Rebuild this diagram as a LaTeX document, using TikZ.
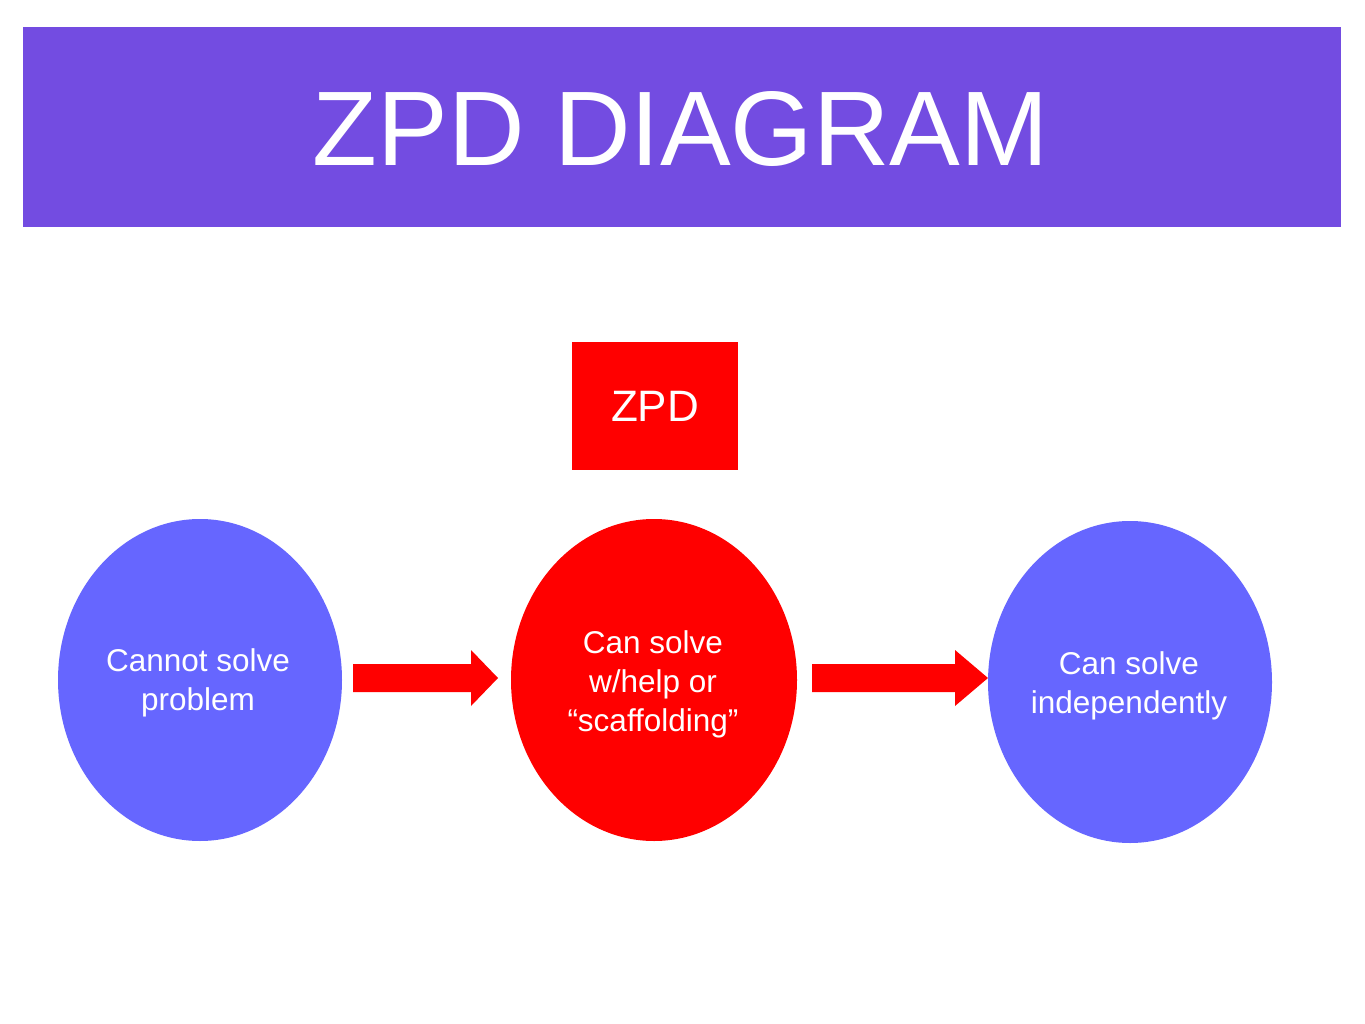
\documentclass[tikz,border=0pt]{standalone}
\usepackage{fontspec}
\setmainfont{Liberation Sans}
\usetikzlibrary{shapes.geometric,shapes.arrows}
\definecolor{banner}{RGB}{115,76,225}
\definecolor{stageblue}{RGB}{102,102,255}
\definecolor{zpdred}{RGB}{255,0,0}
\tikzset{
  stage/.style={ellipse, fill=stageblue, minimum width=284pt, minimum height=322pt, inner sep=0pt},
  stagetext/.style={text=white, align=center, inner sep=0pt, font=\fontsize{31.5}{39}\selectfont},
  arrowshape/.style={fill=zpdred}
}
\begin{document}
\begin{tikzpicture}[x=1pt,y=-1pt]
\useasboundingbox (0,0) rectangle (1365,1024);
\fill[white] (0,0) rectangle (1365,1024);
\node[fill=banner, minimum width=1318pt, minimum height=200pt, inner sep=0pt, anchor=north west] (banner) at (23,27) {};
\node[text=white, font=\fontsize{106}{120}\selectfont] (title) at (681,129) {ZPD DIAGRAM};
\node[fill=zpdred, minimum width=166pt, minimum height=128pt, inner sep=0pt, text=white, font=\fontsize{44}{50}\selectfont] (zpd) at (655,406) {ZPD};
\node[stage] (left) at (200,680) {};
\node[stage, fill=zpdred, minimum width=286pt] (mid) at (654,680) {};
\node[stage] (right) at (1130,682) {};
\node[stagetext] (lefttext) at (198,683) {Cannot solve\\problem};
\node[stagetext] (midtext) at (653,684) {Can solve\\w/help or\\“scaffolding”};
\node[stagetext] (righttext) at (1129,686) {Can solve\\independently};
\fill[arrowshape] (353,664) -- (471,664) -- (471,650) -- (498,678) -- (471,706) -- (471,692) -- (353,692) -- cycle;
\fill[arrowshape] (812,664) -- (955,664) -- (955,650) -- (988,678) -- (955,706) -- (955,692) -- (812,692) -- cycle;
\end{tikzpicture}
\end{document}
